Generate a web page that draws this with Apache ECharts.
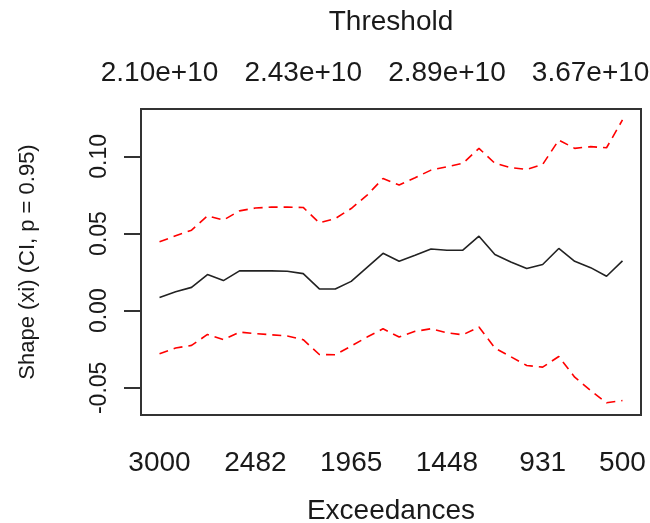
<!DOCTYPE html>
<html>
<head>
<meta charset="utf-8">
<script src="https://cdn.jsdelivr.net/npm/echarts@6/dist/echarts.min.js"></script>
<style>
  html, body { margin: 0; padding: 0; background: #fff; }
  #main { width: 650px; height: 523px; }
</style>
</head>
<body>
<div id="main"></div>
<script>
// number of exceedances used for each fit (x axis, shown reversed)
const exceed = [3000, 2913, 2827, 2741, 2655, 2568, 2482, 2396, 2310, 2224,
  2137, 2051, 1965, 1879, 1793, 1706, 1620, 1534, 1448, 1362,
  1275, 1189, 1103, 1017, 931, 844, 758, 672, 586, 500];

// shape estimate and the 95% band
const shapeXi = [0.0086, 0.0123, 0.0151, 0.0234, 0.0195, 0.0258, 0.0258, 0.0258, 0.0256, 0.0240,
  0.0141, 0.0141, 0.0190, 0.0281, 0.0372, 0.0320, 0.0359, 0.0400, 0.0392, 0.0392,
  0.0483, 0.0364, 0.0316, 0.0273, 0.0299, 0.0403, 0.0320, 0.0279, 0.0223, 0.0323];
const upperCI = [0.0446, 0.0485, 0.0522, 0.0615, 0.0587, 0.0647, 0.0665, 0.0671, 0.0671, 0.0669,
  0.0569, 0.0597, 0.0662, 0.0749, 0.0857, 0.0814, 0.0862, 0.0911, 0.0933, 0.0955,
  0.1052, 0.0955, 0.0927, 0.0916, 0.0948, 0.1106, 0.1052, 0.1063, 0.1056, 0.1236];
const lowerCI = [-0.0279, -0.0242, -0.0225, -0.0154, -0.0188, -0.0139, -0.0149, -0.0156, -0.0164, -0.0188,
  -0.0284, -0.0286, -0.0229, -0.0171, -0.0117, -0.0171, -0.0134, -0.0117, -0.0143, -0.0156,
  -0.0106, -0.0242, -0.0298, -0.0355, -0.0366, -0.0297, -0.0431, -0.0517, -0.0597, -0.0582];

// tick labels
const bottomTicks = [3000, 2482, 1965, 1448, 931, 500];
const thresholdAt = [3000, 2224, 1448, 672];
const thresholdLabels = ["2.10e+10", "2.43e+10", "2.89e+10", "3.67e+10"];
const yTicks = [-0.05, 0, 0.05, 0.1];

const pairs = (ys) => exceed.map((x, i) => [x, ys[i]]);

const textColor = "#1a1a1a";
const font = "Liberation Sans";

let option = {
  animation: false,
  backgroundColor: "#fff",
  grid: [
    {
      left: 141,
      top: 109,
      width: 500,
      height: 306,
      containLabel: false,
      outerBoundsMode: "none",
      show: true,
      borderColor: "#333",
      borderWidth: 2,
    },
  ],
  xAxis: [
    {
      type: "value",
      position: "bottom",
      inverse: true,
      min: 400,
      max: 3100,
      axisLine: { show: false },
      axisTick: { show: false },
      splitLine: { show: false },
      axisLabel: {
        customValues: bottomTicks,
        formatter: (v) => String(v),
        margin: 34,
        fontSize: 28,
        fontFamily: font,
        color: textColor,
      },
      name: "Exceedances",
      nameLocation: "middle",
      nameGap: 82,
      nameTextStyle: { fontSize: 28, fontFamily: font, color: textColor },
    },
    {
      type: "value",
      position: "top",
      inverse: true,
      min: 400,
      max: 3100,
      axisLine: { show: false },
      axisTick: { show: false },
      splitLine: { show: false },
      axisLabel: {
        customValues: thresholdAt,
        formatter: (v) => thresholdLabels[thresholdAt.indexOf(v)],
        margin: 22,
        fontSize: 28,
        fontFamily: font,
        color: textColor,
      },
      name: "Threshold",
      nameLocation: "middle",
      nameGap: 73,
      nameTextStyle: { fontSize: 28, fontFamily: font, color: textColor },
    },
  ],
  yAxis: [
    {
      type: "value",
      min: -0.0676,
      max: 0.1307,
      axisLine: { show: false },
      splitLine: { show: false },
      axisTick: {
        show: true,
        customValues: yTicks,
        length: 17,
        lineStyle: { color: "#333", width: 2 },
      },
      axisLabel: {
        customValues: yTicks,
        formatter: (v) => v.toFixed(2),
        rotate: 90,
        margin: 30,
        fontSize: 23,
        fontFamily: font,
        color: textColor,
      },
      name: "Shape (xi) (CI, p = 0.95)",
      nameLocation: "middle",
      nameGap: 102,
      nameTextStyle: { fontSize: 22, fontFamily: font, color: textColor },
    },
  ],
  series: [
    {
      type: "line",
      showSymbol: false,
      data: pairs(shapeXi),
      lineStyle: { color: "#222", width: 1.6 },
    },
    {
      type: "line",
      showSymbol: false,
      data: pairs(upperCI),
      lineStyle: { color: "#ff0000", width: 1.6, type: [9, 6] },
    },
    {
      type: "line",
      showSymbol: false,
      data: pairs(lowerCI),
      lineStyle: { color: "#ff0000", width: 1.6, type: [9, 6] },
    },
  ],
};

var myChart = echarts.init(document.getElementById("main"));
myChart.setOption(option);
</script>
</body>
</html>
